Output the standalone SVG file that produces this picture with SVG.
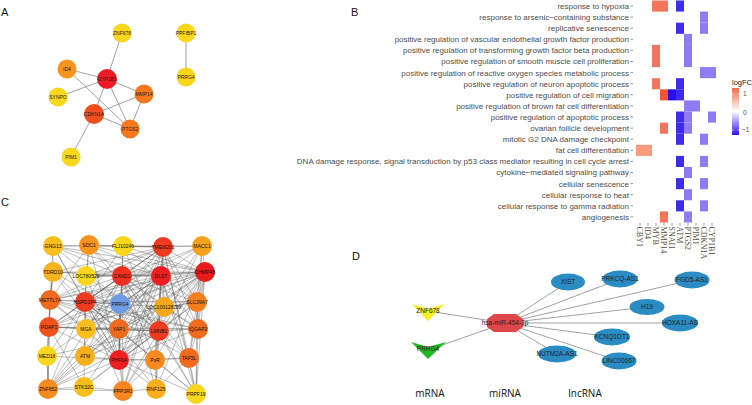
<svg xmlns="http://www.w3.org/2000/svg" width="752" height="405" viewBox="0 0 752 405">
<defs>
<style>
.pl{font-family:"Liberation Sans",Arial,sans-serif;font-size:11px;fill:#111}
.e{stroke:#7a7a7a;stroke-width:0.7;fill:none}
.ec{stroke:#5e5e5e;stroke-width:0.45;fill:none;stroke-opacity:0.9}
.ed{stroke:#8a8a8a;stroke-width:0.8;fill:none}
.nl{font-family:"Liberation Sans",Arial,sans-serif;font-size:5px;fill:#222;text-anchor:middle}
.cl{font-family:"Liberation Sans",Arial,sans-serif;font-size:5px;fill:#111;text-anchor:middle}
.dl{font-family:"Liberation Sans",Arial,sans-serif;font-size:6.5px;fill:#222;text-anchor:middle}
.rl{font-family:"Liberation Sans",Arial,sans-serif;font-size:8px;fill:#4d4d4d;text-anchor:end}
.xl{font-family:"Liberation Serif","Times New Roman",serif;font-size:8px;fill:#4d4d4d}
.bt{font-family:"Open Sans","Liberation Sans",sans-serif;font-size:10px;fill:#111;text-anchor:middle}
.r1{fill:#f4765a}.r2{fill:#ef5535}.r3{fill:#f99a7c}.bb{fill:#3f2bef}.db{fill:#2a0ef0}.pp{fill:#8f7bf3}
.y{fill:#f9d71c}.o{fill:#f7941d}.o2{fill:#f5781e}.rr{fill:#ed1c24}.ro{fill:#f04e1e}.yo{fill:#f7be1c}.bl{fill:#6e9de6}
.ln{fill:#2b8cc4}
</style>
<linearGradient id="lg" x1="0" y1="0" x2="0" y2="1">
<stop offset="0" stop-color="#f4694a"/>
<stop offset="0.5" stop-color="#ffffff"/>
<stop offset="1" stop-color="#2a10f0"/>
</linearGradient>
</defs>
<rect width="752" height="405" fill="#ffffff"/>

<!-- Panel labels -->
<text class="pl" x="1" y="16">A</text>
<text class="pl" x="351" y="16">B</text>
<text class="pl" x="1" y="206">C</text>
<text class="pl" x="352" y="260">D</text>

<!-- ===== Panel A connectors ===== -->
<g id="connectors-A">
<line class="e" x1="122" y1="33" x2="107" y2="79"/>
<line class="e" x1="186" y1="33" x2="186" y2="77"/>
<line class="e" x1="67" y1="69" x2="107" y2="79"/>
<line class="e" x1="67" y1="69" x2="130" y2="129"/>
<line class="e" x1="58" y1="97" x2="107" y2="79"/>
<line class="e" x1="107" y1="79" x2="144" y2="94"/>
<line class="e" x1="107" y1="79" x2="94" y2="114"/>
<line class="e" x1="107" y1="79" x2="130" y2="129"/>
<line class="e" x1="94" y1="114" x2="144" y2="94"/>
<line class="e" x1="94" y1="114" x2="130" y2="129"/>
<line class="e" x1="144" y1="94" x2="130" y2="129"/>
<line class="e" x1="94" y1="114" x2="71" y2="157"/>
</g>
<g id="a-ZNF678"><circle class="y" cx="122" cy="33" r="9.5"/><text class="nl" x="122" y="34.8">ZNF678</text></g>
<g id="a-PPFIBP1"><circle class="y" cx="186" cy="33" r="9.5"/><text class="nl" x="186" y="34.8">PPFIBP1</text></g>
<g id="a-ID4"><circle class="o" cx="67" cy="69" r="9.5"/><text class="nl" x="67" y="70.8">ID4</text></g>
<g id="a-CYP1B1"><circle class="rr" cx="107" cy="79" r="10"/><text class="nl" x="107" y="80.8">CYP1B1</text></g>
<g id="a-PRRG4"><circle class="y" cx="186" cy="77" r="9.5"/><text class="nl" x="186" y="78.8">PRRG4</text></g>
<g id="a-MMP14"><circle class="o2" cx="144" cy="94" r="9.5"/><text class="nl" x="144" y="95.8">MMP14</text></g>
<g id="a-SYNPO"><circle class="y" cx="58" cy="97" r="9.5"/><text class="nl" x="58" y="98.8">SYNPO</text></g>
<g id="a-CDKN1A"><circle class="ro" cx="94" cy="114" r="10"/><text class="nl" x="94" y="115.8">CDKN1A</text></g>
<g id="a-PTGS2"><circle class="o2" cx="130" cy="129" r="9.5"/><text class="nl" x="130" y="130.8">PTGS2</text></g>
<g id="a-PIM1"><circle class="y" cx="71" cy="157" r="9.5"/><text class="nl" x="71" y="158.8">PIM1</text></g>

<!-- ===== Panel B heatmap ===== -->
<g id="heatmap">
<g id="row-labels">
<text class="rl" x="629" y="8.9">response to hypoxia</text>
<text class="rl" x="629" y="20">response to arsenic−containing substance</text>
<text class="rl" x="629" y="31.1">replicative senescence</text>
<text class="rl" x="629" y="42.2">positive regulation of vascular endothelial growth factor production</text>
<text class="rl" x="629" y="53.3">positive regulation of transforming growth factor beta production</text>
<text class="rl" x="629" y="64.4">positive regulation of smooth muscle cell proliferation</text>
<text class="rl" x="629" y="75.5">positive regulation of reactive oxygen species metabolic process</text>
<text class="rl" x="629" y="86.6">positive regulation of neuron apoptotic process</text>
<text class="rl" x="629" y="97.7">positive regulation of cell migration</text>
<text class="rl" x="629" y="108.8">positive regulation of brown fat cell differentiation</text>
<text class="rl" x="629" y="119.9">positive regulation of apoptotic process</text>
<text class="rl" x="629" y="131">ovarian follicle development</text>
<text class="rl" x="629" y="142.1">mitotic G2 DNA damage checkpoint</text>
<text class="rl" x="629" y="153.2">fat cell differentiation</text>
<text class="rl" x="629" y="164.3">DNA damage response, signal transduction by p53 class mediator resulting in cell cycle arrest</text>
<text class="rl" x="629" y="175.4">cytokine−mediated signaling pathway</text>
<text class="rl" x="629" y="186.5">cellular senescence</text>
<text class="rl" x="629" y="197.6">cellular response to heat</text>
<text class="rl" x="629" y="208.7">cellular response to gamma radiation</text>
<text class="rl" x="629" y="219.8">angiogenesis</text>
</g>
<path stroke="#4d4d4d" stroke-width="0.6" d="M630.5 6H633M630.5 17.1H633M630.5 28.2H633M630.5 39.3H633M630.5 50.4H633M630.5 61.5H633M630.5 72.6H633M630.5 83.7H633M630.5 94.8H633M630.5 105.9H633M630.5 117H633M630.5 128.1H633M630.5 139.2H633M630.5 150.3H633M630.5 161.4H633M630.5 172.5H633M630.5 183.6H633M630.5 194.7H633M630.5 205.8H633M630.5 216.9H633M640 223V225.5M648 223V225.5M656 223V225.5M664 223V225.5M672 223V225.5M680 223V225.5M688 223V225.5M696 223V225.5M704 223V225.5M712 223V225.5"/>
<g id="cells">
<rect class="r1" x="652" y="0.5" width="8" height="11.1"/>
<rect class="r1" x="660" y="0.5" width="8" height="11.1"/>
<rect class="bb" x="676" y="0.5" width="8" height="11.1"/>
<rect class="pp" x="700" y="11.6" width="8" height="11.1"/>
<rect class="bb" x="676" y="22.7" width="8" height="11.1"/>
<rect class="pp" x="700" y="22.7" width="8" height="11.1"/>
<rect class="pp" x="684" y="33.8" width="8" height="11.1"/>
<rect class="r1" x="652" y="44.9" width="8" height="11.1"/>
<rect class="pp" x="684" y="44.9" width="8" height="11.1"/>
<rect class="r1" x="652" y="56" width="8" height="11.1"/>
<rect class="pp" x="684" y="56" width="8" height="11.1"/>
<rect class="pp" x="700" y="67.1" width="8" height="11.1"/>
<rect class="pp" x="708" y="67.1" width="8" height="11.1"/>
<rect class="r1" x="652" y="78.2" width="8" height="11.1"/>
<rect class="bb" x="676" y="78.2" width="8" height="11.1"/>
<rect class="r2" x="660" y="89.3" width="8" height="11.1"/>
<rect class="db" x="668" y="89.3" width="8" height="11.1"/>
<rect class="bb" x="676" y="89.3" width="8" height="11.1"/>
<rect class="pp" x="684" y="100.4" width="8" height="11.1"/>
<rect class="pp" x="692" y="100.4" width="8" height="11.1"/>
<rect class="bb" x="676" y="111.5" width="8" height="11.1"/>
<rect class="pp" x="684" y="111.5" width="8" height="11.1"/>
<rect class="pp" x="708" y="111.5" width="8" height="11.1"/>
<rect class="r1" x="660" y="122.6" width="8" height="11.1"/>
<rect class="bb" x="676" y="122.6" width="8" height="11.1"/>
<rect class="pp" x="684" y="122.6" width="8" height="11.1"/>
<rect class="bb" x="676" y="133.7" width="8" height="11.1"/>
<rect class="pp" x="700" y="133.7" width="8" height="11.1"/>
<rect class="r3" x="636" y="144.8" width="8" height="11.1"/>
<rect class="r3" x="644" y="144.8" width="8" height="11.1"/>
<rect class="bb" x="676" y="155.9" width="8" height="11.1"/>
<rect class="pp" x="700" y="155.9" width="8" height="11.1"/>
<rect class="pp" x="684" y="167" width="8" height="11.1"/>
<rect class="bb" x="676" y="178.1" width="8" height="11.1"/>
<rect class="pp" x="700" y="178.1" width="8" height="11.1"/>
<rect class="pp" x="684" y="189.2" width="8" height="11.1"/>
<rect class="bb" x="676" y="200.3" width="8" height="11.1"/>
<rect class="pp" x="700" y="200.3" width="8" height="11.1"/>
<rect class="r1" x="660" y="211.4" width="8" height="11.1"/>
<rect class="pp" x="684" y="211.4" width="8" height="11.1"/>
</g>
<g id="col-labels">
<text class="xl" transform="translate(637.2 226.5) rotate(90)">CBY1</text>
<text class="xl" transform="translate(645.2 226.5) rotate(90)">ID4</text>
<text class="xl" transform="translate(653.2 226.5) rotate(90)">MYB</text>
<text class="xl" transform="translate(661.2 226.5) rotate(90)">MMP14</text>
<text class="xl" transform="translate(669.2 226.5) rotate(90)">SNAI1</text>
<text class="xl" transform="translate(677.2 226.5) rotate(90)">ATM</text>
<text class="xl" transform="translate(685.2 226.5) rotate(90)">PTGS2</text>
<text class="xl" transform="translate(693.2 226.5) rotate(90)">PIM1</text>
<text class="xl" transform="translate(701.2 226.5) rotate(90)">CDKN1A</text>
<text class="xl" transform="translate(709.2 226.5) rotate(90)">CYP1B1</text>
</g>
<g id="legend">
<text x="732" y="85" font-family="Liberation Sans,Arial,sans-serif" font-size="7.5" fill="#222">logFC</text>
<rect x="732" y="88" width="7" height="47" fill="url(#lg)"/>
<path stroke="#ffffff" stroke-width="0.6" d="M732 94H733.5M737.5 94H739M732 112.5H733.5M737.5 112.5H739M732 130H733.5M737.5 130H739"/>
<text x="743" y="96" font-family="Liberation Sans,Arial,sans-serif" font-size="6.5" fill="#4d4d4d">1</text>
<text x="743" y="114.5" font-family="Liberation Sans,Arial,sans-serif" font-size="6.5" fill="#4d4d4d">0</text>
<text x="742" y="132" font-family="Liberation Sans,Arial,sans-serif" font-size="6.5" fill="#4d4d4d">−1</text>
</g>
</g>

<!-- ===== Panel C connectors ===== -->
<g id="connectors-C">
<path class="ec" d="M122 276L53 246M122 276L89 245M122 276L123 246M122 276L163 247M122 276L202 246M122 276L53 272M122 276L86 276M122 276L161 276M122 276L205 272M122 276L50 300M122 276L85 302M122 276L164 307M122 276L197 302M122 276L49 327M122 276L86 329M122 276L119 329M122 276L159 331M122 276L198 329M122 276L85 356M122 276L119 360M122 276L155 360M122 276L189 358M122 276L48 389M122 276L123 391M122 276L156 389M122 276L196 394"/>
<path class="ec" d="M161 276L53 246M161 276L89 245M161 276L123 246M161 276L163 247M161 276L202 246M161 276L53 272M161 276L86 276M161 276L205 272M161 276L50 300M161 276L85 302M161 276L120 304M161 276L164 307M161 276L197 302M161 276L49 327M161 276L86 329M161 276L119 329M161 276L159 331M161 276L198 329M161 276L47 356M161 276L85 356M161 276L119 360M161 276L155 360M161 276L189 358M161 276L48 389M161 276L84 387M161 276L123 391M161 276L156 389M161 276L196 394"/>
<path class="ec" d="M205 272L53 246M205 272L89 245M205 272L123 246M205 272L163 247M205 272L202 246M205 272L53 272M205 272L86 276M205 272L50 300M205 272L85 302M205 272L120 304M205 272L164 307M205 272L197 302M205 272L49 327M205 272L86 329M205 272L119 329M205 272L159 331M205 272L198 329M205 272L85 356M205 272L119 360M205 272L155 360M205 272L189 358M205 272L48 389M205 272L123 391M205 272L156 389M205 272L196 394"/>
<path class="ec" d="M163 247L53 246M163 247L89 245M163 247L123 246M163 247L202 246M163 247L53 272M163 247L86 276M163 247L50 300M163 247L85 302M163 247L164 307M163 247L197 302M163 247L49 327M163 247L86 329M163 247L119 329M163 247L159 331M163 247L198 329M163 247L119 360M163 247L155 360M163 247L189 358M163 247L48 389M163 247L123 391M163 247L196 394"/>
<path class="ec" d="M85 302L53 246M85 302L89 245M85 302L123 246M85 302L202 246M85 302L53 272M85 302L86 276M85 302L50 300M85 302L120 304M85 302L164 307M85 302L197 302M85 302L49 327M85 302L86 329M85 302L119 329M85 302L159 331M85 302L198 329M85 302L47 356M85 302L85 356M85 302L119 360M85 302L155 360M85 302L189 358M85 302L48 389M85 302L84 387M85 302L123 391M85 302L156 389M85 302L196 394"/>
<path class="ec" d="M119 360L53 246M119 360L89 245M119 360L123 246M119 360L202 246M119 360L53 272M119 360L86 276M119 360L50 300M119 360L120 304M119 360L164 307M119 360L197 302M119 360L49 327M119 360L86 329M119 360L119 329M119 360L159 331M119 360L198 329M119 360L47 356M119 360L85 356M119 360L155 360M119 360L189 358M119 360L48 389M119 360L84 387M119 360L123 391M119 360L156 389M119 360L196 394"/>
<path class="ec" d="M159 331L53 246M159 331L89 245M159 331L123 246M159 331L202 246M159 331L53 272M159 331L86 276M159 331L50 300M159 331L120 304M159 331L164 307M159 331L197 302M159 331L49 327M159 331L86 329M159 331L119 329M159 331L198 329M159 331L47 356M159 331L85 356M159 331L155 360M159 331L189 358M159 331L48 389M159 331L84 387M159 331L123 391M159 331L156 389M159 331L196 394"/>
<path class="ec" d="M50 300L53 246M50 300L89 245M50 300L53 272M50 300L49 327M50 300L86 329M50 300L47 356M50 300L48 389M50 300L119 329M50 300L197 302M50 300L198 329M49 327L53 272M49 327L86 329M49 327L47 356M49 327L48 389M49 327L84 387M49 327L119 329M49 327L198 329M49 327L197 302M119 329L120 304M119 329L86 329M119 329L85 356M119 329L155 360M119 329L123 391M119 329L164 307M119 329L198 329M119 329L48 389M197 302L202 246M197 302L198 329M197 302L189 358M197 302L196 394M197 302L164 307M198 329L189 358M198 329L196 394M198 329L202 246M198 329L164 307M189 358L196 394M189 358L156 389M189 358L155 360M155 360L156 389M155 360L123 391M155 360L196 394M123 391L84 387M123 391L156 389M123 391L48 389M48 389L84 387M48 389L47 356M89 245L123 246M89 245L53 246M89 245L86 276M123 246L202 246M53 246L53 272M53 272L50 300M47 356L48 389"/>
</g>

<!-- ===== Panel C nodes ===== -->
<g id="c-GNG13"><circle class="yo" cx="53" cy="246" r="10"/><text class="cl" x="53" y="247.8">GNG13</text></g>
<g id="c-SDC1"><circle class="o" cx="89" cy="245" r="10"/><text class="cl" x="89" y="246.8">SDC1</text></g>
<g id="c-FLJ10246"><circle class="y" cx="123" cy="246" r="10"/><text class="cl" x="123" y="247.8">FLJ10246</text></g>
<g id="c-TMEM201"><circle fill="#ee3a1e" cx="163" cy="247" r="10"/><text class="cl" x="163" y="248.8">TMEM201</text></g>
<g id="c-MACC1"><circle fill="#f5a21e" cx="202" cy="246" r="10"/><text class="cl" x="202" y="247.8">MACC1</text></g>
<g id="c-TDRD10"><circle fill="#f5b41e" cx="53" cy="272" r="10"/><text class="cl" x="53" y="273.8">TDRD10</text></g>
<g id="c-LOC780529"><circle class="y" cx="86" cy="276" r="10"/><text class="cl" x="86" y="277.8">LOC780529</text></g>
<g id="c-CAND1"><circle fill="#ee3020" cx="122" cy="276" r="10"/><text class="cl" x="122" y="277.8">CAND1</text></g>
<g id="c-DLST"><circle fill="#ec2020" cx="161" cy="276" r="10"/><text class="cl" x="161" y="277.8">DLST</text></g>
<g id="c-CHMP4B"><circle fill="#e81c1c" cx="205" cy="272" r="10"/><text class="cl" x="205" y="273.8">CHMP4B</text></g>
<g id="c-METTL7A"><circle fill="#f06a1e" cx="50" cy="300" r="10"/><text class="cl" x="50" y="301.8">METTL7A</text></g>
<g id="c-HSPD1P4"><circle fill="#ee3a1e" cx="85" cy="302" r="10"/><text class="cl" x="85" y="303.8">HSPD1P4</text></g>
<g id="c-PRRG4"><circle class="bl" cx="120" cy="304" r="10"/><text class="cl" x="120" y="305.8">PRRG4</text></g>
<g id="c-LOC100128288"><circle fill="#f5a81e" cx="164" cy="307" r="10"/><text class="cl" x="164" y="308.8">LOC100128288</text></g>
<g id="c-SLC39A7"><circle fill="#f57f1e" cx="197" cy="302" r="10"/><text class="cl" x="197" y="303.8">SLC39A7</text></g>
<g id="c-PDAP1"><circle fill="#f0521e" cx="49" cy="327" r="10"/><text class="cl" x="49" y="328.8">PDAP1</text></g>
<g id="c-MGA"><circle class="yo" cx="86" cy="329" r="10"/><text class="cl" x="86" y="330.8">MGA</text></g>
<g id="c-YAP1"><circle fill="#f06a1e" cx="119" cy="329" r="10"/><text class="cl" x="119" y="330.8">YAP1</text></g>
<g id="c-LMNB1"><circle fill="#ee3a1e" cx="159" cy="331" r="10"/><text class="cl" x="159" y="332.8">LMNB1</text></g>
<g id="c-IQGAP2"><circle fill="#f06a1e" cx="198" cy="329" r="10"/><text class="cl" x="198" y="330.8">IQGAP2</text></g>
<g id="c-MED18"><circle class="y" cx="47" cy="356" r="10"/><text class="cl" x="47" y="357.8">MED18</text></g>
<g id="c-ATM"><circle fill="#f7b01c" cx="85" cy="356" r="10"/><text class="cl" x="85" y="357.8">ATM</text></g>
<g id="c-PHF6A"><circle fill="#ec2020" cx="119" cy="360" r="10"/><text class="cl" x="119" y="361.8">PHF6A</text></g>
<g id="c-PVR"><circle fill="#f58a1e" cx="155" cy="360" r="10"/><text class="cl" x="155" y="361.8">PvR</text></g>
<g id="c-TAF5L"><circle fill="#f06a1e" cx="189" cy="358" r="10"/><text class="cl" x="189" y="359.8">TAF5L</text></g>
<g id="c-ZNF652"><circle fill="#f58a1e" cx="48" cy="389" r="10"/><text class="cl" x="48" y="390.8">ZNF652</text></g>
<g id="c-STK32C"><circle class="yo" cx="84" cy="387" r="10"/><text class="cl" x="84" y="388.8">STK32C</text></g>
<g id="c-PPP3R1"><circle fill="#f5851e" cx="123" cy="391" r="10"/><text class="cl" x="123" y="392.8">PPP3R1</text></g>
<g id="c-RNF125"><circle fill="#f7b01c" cx="156" cy="389" r="10"/><text class="cl" x="156" y="390.8">RNF125</text></g>
<g id="c-PRPF19"><circle class="y" cx="196" cy="394" r="10"/><text class="cl" x="196" y="395.8">PRPF19</text></g>

<!-- ===== Panel D ===== -->
<g id="connectors-D">
<line class="ed" x1="505" y1="323" x2="428" y2="311"/>
<line class="ed" x1="505" y1="323" x2="428" y2="350"/>
<line class="ed" x1="505" y1="323" x2="568" y2="282"/>
<line class="ed" x1="505" y1="323" x2="620" y2="279"/>
<line class="ed" x1="505" y1="323" x2="692" y2="280"/>
<line class="ed" x1="505" y1="323" x2="647" y2="307"/>
<line class="ed" x1="505" y1="323" x2="680" y2="323"/>
<line class="ed" x1="505" y1="323" x2="612" y2="337"/>
<line class="ed" x1="505" y1="323" x2="619" y2="361"/>
<line class="ed" x1="505" y1="323" x2="557" y2="354"/>
</g>
<g id="d-ZNF678"><polygon fill="#f5f01c" points="412,304 428,309 444,304 428,321"/><text class="dl" x="428" y="313">ZNF678</text></g>
<g id="d-PRRG4"><polygon fill="#22b822" points="411,342 428,347 446,342 428,359"/><text class="dl" x="428" y="351">PRRG4</text></g>
<g id="d-miR"><polygon fill="#e0474c" points="487,319 494,314 516,314 523,319 523,327 516,332 494,332 487,327"/><text class="dl" x="505" y="325.3">hsa-miR-454-3p</text></g>
<g id="d-XIST"><ellipse class="ln" cx="568" cy="282" rx="17" ry="8.5"/><text class="dl" x="568" y="284.3">XIST</text></g>
<g id="d-PRKCQ-AS1"><ellipse class="ln" cx="620" cy="279" rx="17.5" ry="8.5"/><text class="dl" x="620" y="281.3">PRKCQ-AS1</text></g>
<g id="d-FGD5-AS1"><ellipse class="ln" cx="692" cy="280" rx="17.5" ry="8.5"/><text class="dl" x="692" y="282.3">FGD5-AS1</text></g>
<g id="d-H19"><ellipse class="ln" cx="647" cy="307" rx="17.5" ry="8"/><text class="dl" x="647" y="309.3">H19</text></g>
<g id="d-HOXA11-AS"><ellipse class="ln" cx="680" cy="323" rx="18" ry="8.5"/><text class="dl" x="680" y="325.3">HOXA11-AS</text></g>
<g id="d-KCNQ1OT1"><ellipse class="ln" cx="612" cy="337" rx="18" ry="8.5"/><text class="dl" x="612" y="339.3">KCNQ1OT1</text></g>
<g id="d-NUTM2A-AS1"><ellipse class="ln" cx="557" cy="354" rx="19" ry="8.5"/><text class="dl" x="557" y="356.3">NUTM2A-AS1</text></g>
<g id="d-LINC00667"><ellipse class="ln" cx="619" cy="361" rx="17.5" ry="8.5"/><text class="dl" x="619" y="363.3">LINC00667</text></g>
<text class="bt" x="430" y="397">mRNA</text>
<text class="bt" x="505" y="397">miRNA</text>
<text class="bt" x="585" y="397">lncRNA</text>
</svg>
